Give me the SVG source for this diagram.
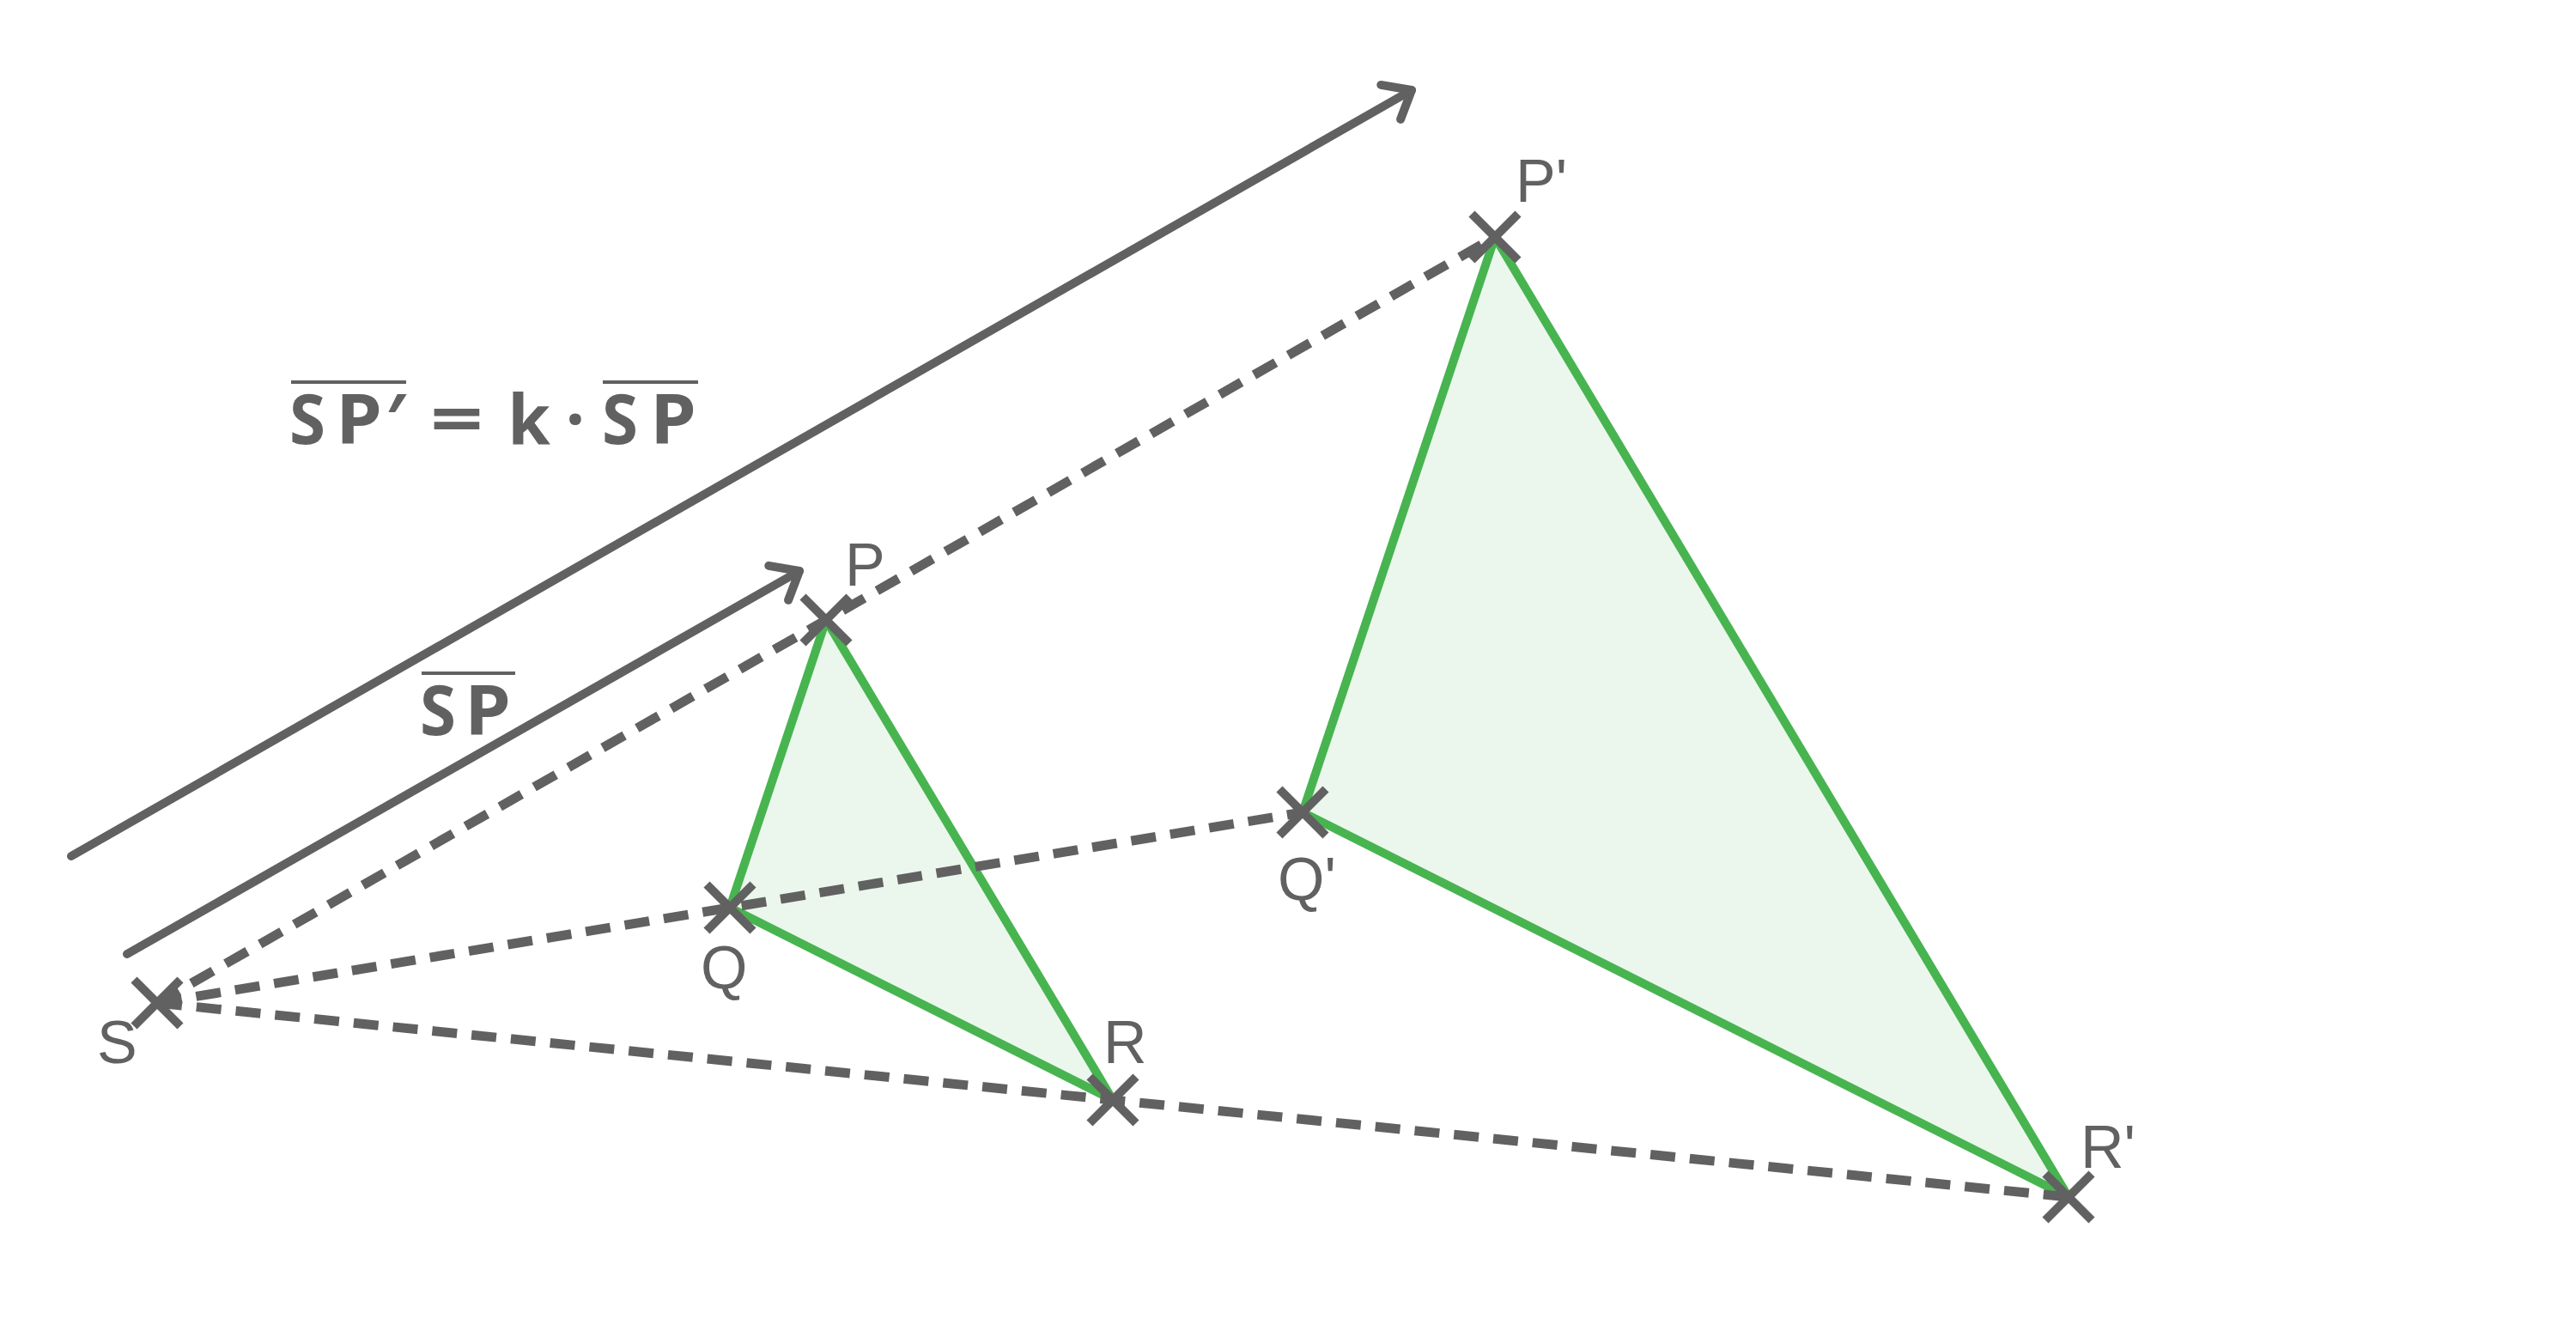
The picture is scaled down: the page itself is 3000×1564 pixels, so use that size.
<svg xmlns="http://www.w3.org/2000/svg" width="3000" height="1564" viewBox="0 0 3000 1564">
<defs>
<style>
.tri{fill:#ebf7ed;stroke:#48b450;stroke-width:10;stroke-linejoin:round}
.dash{fill:none;stroke:#616161;stroke-width:11;stroke-dasharray:29 17}
.arrow{fill:none;stroke:#616161;stroke-width:10;stroke-linecap:round}
.cross{stroke:#616161;stroke-width:10}
.lbl{font-family:"Liberation Sans",Arial,sans-serif;font-size:70px;fill:#616161}
.math{font-family:"Open Sans","Noto Sans",sans-serif;font-size:80px;font-weight:700;fill:#616161;text-anchor:middle}
.bar{stroke:#616161;stroke-width:4}
</style>
<marker id="arr" markerUnits="userSpaceOnUse" viewBox="-40 -30 50 60" markerWidth="50" markerHeight="60" refX="0" refY="0" orient="auto" overflow="visible">
<path d="M -28 -23 L 0 0 L -28 23" fill="none" stroke="#616161" stroke-width="10" stroke-linecap="round" stroke-linejoin="round"/>
</marker>
<g id="x"><line class="cross" x1="-27" y1="-27" x2="27" y2="27"/><line class="cross" x1="-27" y1="27" x2="27" y2="-27"/></g>
</defs>
<rect width="3000" height="1564" fill="#ffffff"/>

<g id="triangle-PQR"><polygon class="tri" points="962,722 850,1057 1296,1281"/></g>
<g id="triangle-PQR-image"><polygon class="tri" points="1741,276 1517,946 2409,1394"/></g>

<g id="connectors">
<line class="dash" x1="183" y1="1168" x2="1741" y2="276"/>
<line class="dash" x1="183" y1="1168" x2="1517" y2="946"/>
<line class="dash" x1="183" y1="1168" x2="2409" y2="1394"/>
<line class="arrow" x1="148" y1="1111" x2="931" y2="665" marker-end="url(#arr)"/>
<line class="arrow" x1="83" y1="997" x2="1644" y2="105" marker-end="url(#arr)"/>
</g>

<g id="node-S"><use href="#x" x="183" y="1168"/><text class="lbl" x="113" y="1238">S</text></g>
<g id="node-P"><use href="#x" x="962" y="722"/><text class="lbl" x="984" y="682">P</text></g>
<g id="node-Q"><use href="#x" x="850" y="1057"/><text class="lbl" x="816" y="1151">Q</text></g>
<g id="node-R"><use href="#x" x="1296" y="1281"/><text class="lbl" x="1285" y="1238">R</text></g>
<g id="node-P-prime"><use href="#x" x="1741" y="276"/><text class="lbl" x="1765" y="235">P'</text></g>
<g id="node-Q-prime"><use href="#x" x="1517" y="946"/><text class="lbl" x="1488" y="1048">Q'</text></g>
<g id="node-R-prime"><use href="#x" x="2409" y="1394"/><text class="lbl" x="2423" y="1360">R'</text></g>

<g id="label-SP">
<line class="bar" x1="491" y1="784" x2="600" y2="784"/>
<text class="math" x="510" y="856" textLength="42" lengthAdjust="spacingAndGlyphs">S</text>
<text class="math" x="568" y="856" textLength="54" lengthAdjust="spacingAndGlyphs">P</text>
</g>
<g id="formula">
<line class="bar" x1="339" y1="445" x2="473" y2="445"/>
<line class="bar" x1="702" y1="445" x2="813" y2="445"/>
<text class="math" x="358" y="517" textLength="42" lengthAdjust="spacingAndGlyphs">S</text>
<text class="math" x="418" y="517" textLength="54" lengthAdjust="spacingAndGlyphs">P</text>
<text class="math" x="461" y="517">′</text>
<text class="math" y="517" x="532" textLength="62" lengthAdjust="spacingAndGlyphs">=</text>
<text class="math" x="616" y="517">k</text>
<text class="math" x="670" y="517">·</text>
<text class="math" x="722" y="517" textLength="42" lengthAdjust="spacingAndGlyphs">S</text>
<text class="math" x="784" y="517" textLength="54" lengthAdjust="spacingAndGlyphs">P</text>
</g>
</svg>
